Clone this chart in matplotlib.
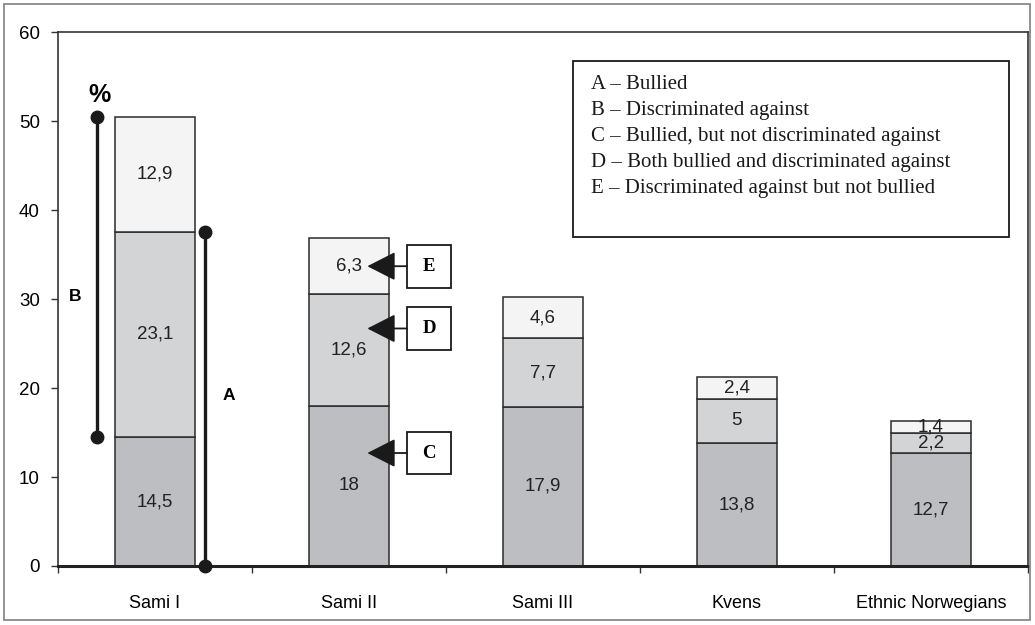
import matplotlib.pyplot as plt
from matplotlib.patches import Rectangle

# Survey shares (%) by group, stacked bottom to top
groups = ['Sami I', 'Sami II', 'Sami III', 'Kvens', 'Ethnic Norwegians']
bullied_only = [14.5, 18, 17.9, 13.8, 12.7]      # C
both = [23.1, 12.6, 7.7, 5, 2.2]                 # D
discriminated_only = [12.9, 6.3, 4.6, 2.4, 1.4]  # E

legend_lines = [
    'A \u2013 Bullied',
    'B \u2013 Discriminated against',
    'C \u2013 Bullied, but not discriminated against',
    'D \u2013 Both bullied and discriminated against',
    'E \u2013 Discriminated against but not bullied',
]

colors = ['#bdbec2', '#d3d4d6', '#f4f4f4']
edge = '#2b2b2b'
sans = 'Liberation Sans'
serif = 'Liberation Serif'

fig = plt.figure(figsize=(10.35, 6.25), dpi=100)
ax = fig.add_axes([0.056, 0.0944, 0.937, 0.854])

x = list(range(len(groups)))
width = 0.41
bottom = [0.0] * len(groups)
for vals, col in zip([bullied_only, both, discriminated_only], colors):
    ax.bar(x, vals, width, bottom=bottom, color=col, edgecolor=edge,
           linewidth=1.1, zorder=2)
    for xi, b, v in zip(x, bottom, vals):
        label = f'{v:g}'.replace('.', ',')
        ax.text(xi, b + v / 2, label, ha='center', va='center',
                fontsize=13.5, family=sans, color='#222222', zorder=3)
    bottom = [b + v for b, v in zip(bottom, vals)]

ax.set_xlim(-0.5, len(groups) - 0.5)
ax.set_ylim(0, 60)
ax.set_yticks(range(0, 61, 10))
ax.set_xticks(x)
ax.set_xticklabels(groups, family=sans, fontsize=13)
ax.set_xticks([i - 0.5 for i in range(len(groups) + 1)], minor=True)
ax.tick_params(axis='x', which='major', length=0, pad=21)
ax.tick_params(axis='x', which='minor', length=5, width=1, color='#333333')
ax.tick_params(axis='y', length=5, width=1, color='#333333', pad=8,
               labelsize=13.5)
for lbl in ax.get_yticklabels():
    lbl.set_family(sans)
for side in ['left', 'top', 'right']:
    ax.spines[side].set_linewidth(1.2)
    ax.spines[side].set_color('#333333')
ax.spines['bottom'].set_linewidth(2.2)
ax.spines['bottom'].set_color('#222222')

# A (bullied) and B (discriminated) brackets on the first group
a_top = bullied_only[0] + both[0]
b_top = bottom[0]
ax.plot([-0.30, -0.30], [bullied_only[0], b_top], color='#1a1a1a', lw=2.4,
        marker='o', markersize=9, zorder=4, clip_on=False)
ax.plot([0.256, 0.256], [0, a_top], color='#1a1a1a', lw=2.4,
        marker='o', markersize=9, zorder=4, clip_on=False)
ax.text(-0.41, 30.3, 'B', fontsize=12.5, fontweight='bold', family=sans,
        ha='center', va='center')
ax.text(0.38, 19.2, 'A', fontsize=12.5, fontweight='bold', family=sans,
        ha='center', va='center')
ax.text(-0.285, 52.9, '%', fontsize=18, fontweight='bold', family=sans,
        ha='center', va='center')

# C, D, E call-out boxes pointing at the Sami II segments
callouts = [('E', 33.7), ('D', 26.7), ('C', 12.7)]
box_w, box_h = 0.226, 4.8
box_x = 1.30
for letter, y in callouts:
    ax.add_patch(Rectangle((box_x, y - box_h / 2), box_w, box_h,
                           facecolor='white', edgecolor='#1a1a1a',
                           linewidth=1.3, zorder=4))
    ax.text(box_x + box_w / 2, y, letter, fontsize=13.5, fontweight='bold',
            family=serif, ha='center', va='center', zorder=5)
    ax.annotate('', xy=(1.095, y), xytext=(box_x, y),
                arrowprops=dict(arrowstyle='-|>,head_length=0.55,head_width=0.28',
                                mutation_scale=32, color='#1a1a1a', lw=1.3,
                                shrinkA=0, shrinkB=0),
                zorder=5)

# Key box
ax.add_patch(Rectangle((2.154, 37.0), 2.248, 19.8, facecolor='white',
                       edgecolor='#1a1a1a', linewidth=1.3, zorder=4))
for i, line in enumerate(legend_lines):
    ax.text(2.247, 54.1 - i * 2.93, line, fontsize=15, family=serif,
            ha='left', va='center', color='#1a1a1a', zorder=5)

# Outer frame
fig.add_artist(Rectangle((0.004, 0.008), 0.991, 0.986, transform=fig.transFigure,
                         fill=False, edgecolor='#8a8a8a', linewidth=1.3))

fig.savefig('out.png', dpi=100)
